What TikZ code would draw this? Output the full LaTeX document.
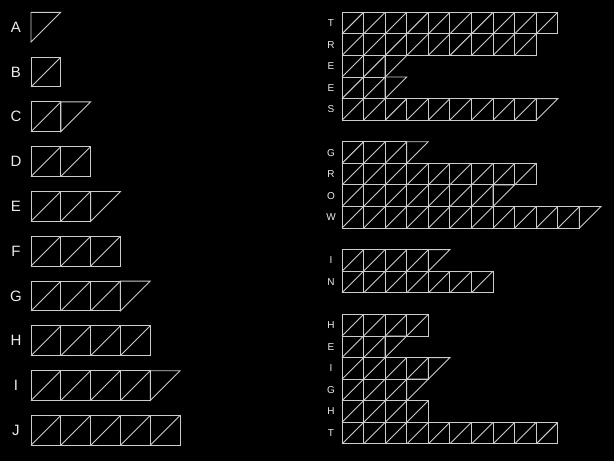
\documentclass[tikz,border=0pt]{standalone}
\usepackage{fontspec}
\setmainfont{Liberation Sans}
\tikzset{
  cell/.style={draw=white!80!black, line width=0.9pt, line join=miter},
  biglab/.style={text=white!92!black, font=\fontsize{15}{15}\selectfont, inner sep=0pt},
  smalllab/.style={text=white!92!black, font=\fontsize{10}{10}\selectfont, inner sep=0pt},
}
% #1 x, #2 top y, #3 cell size, #4 number of triangles
\newcommand{\trirow}[4]{%
  \pgfmathtruncatemacro{\mynsq}{#4/2}%
  \pgfmathtruncatemacro{\myodd}{mod(#4,2)}%
  \ifnum\mynsq>0
    \foreach \k in {1,...,\mynsq} {
      \draw[cell] ({#1+(\k-1)*#3},#2) rectangle ++(#3,#3);
      \draw[cell] ({#1+(\k-1)*#3},{#2+#3}) -- ++(#3,-#3);
    }
  \fi
  \ifnum\myodd=1
    \draw[cell] ({#1+\mynsq*#3},{#2+#3}) -- ++(0,-#3) -- ++(#3,0) -- cycle;
  \fi
}
\begin{document}
\begin{tikzpicture}[x=1pt,y=-1pt]
  \fill[black] (0,0) rectangle (614,461);
  \useasboundingbox (0,0) rectangle (614,461);
  % left column A..J
  \foreach \L [count=\n] in {A,B,C,D,E,F,G,H,I,J} {
    \pgfmathsetmacro{\yy}{12.3+(\n-1)*44.8}
    \node[biglab] (L\n) at (16,{\yy+14.9}) {\L};
    \trirow{31}{\yy}{29.8}{\n}
  }
  % right column
  \foreach \L/\r/\c [count=\i] in {T/0/20,R/1/18,E/2/5,E/3/5,S/4/19,
      G/6/7,R/7/18,O/8/15,W/9/23,
      I/11/9,N/12/14,
      H/14/8,E/15/5,I/16/9,G/17/7,H/18/8,T/19/20} {
    \pgfmathsetmacro{\yy}{12.3+\r*21.58}
    \node[smalllab] (R\i) at (331,{\yy+10.79}) {\L};
    \trirow{342}{\yy}{21.58}{\c}
  }
\end{tikzpicture}
\end{document}
